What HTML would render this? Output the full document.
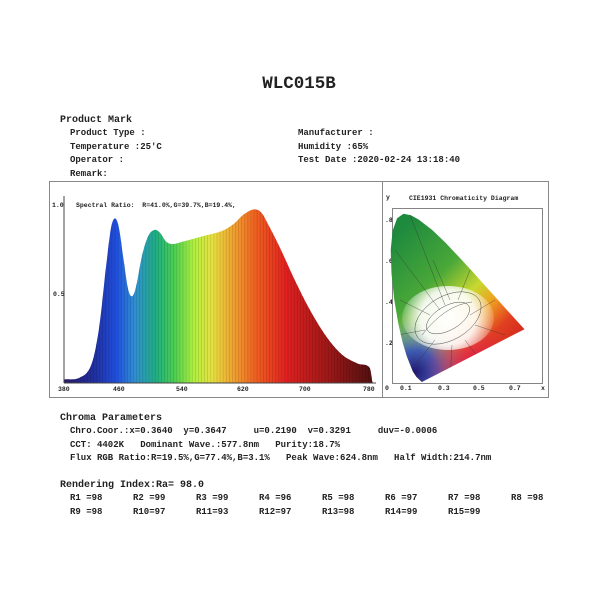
<!DOCTYPE html>
<html><head><meta charset="utf-8"><style>
html,body{margin:0;padding:0;background:#fff;width:600px;height:600px;overflow:hidden}
svg text{font-family:"Liberation Mono",monospace;font-weight:bold;fill:#222}
</style></head><body>
<svg id="s" width="600" height="600" viewBox="0 0 600 600" xmlns="http://www.w3.org/2000/svg">
<defs>
<linearGradient id="spec" x1="64" x2="373" y1="0" y2="0" gradientUnits="userSpaceOnUse">
<stop offset="0" stop-color="#2a1a6a"/>
<stop offset="0.1" stop-color="#2030a0"/>
<stop offset="0.17" stop-color="#2050e0"/>
<stop offset="0.23" stop-color="#3090d0"/>
<stop offset="0.3" stop-color="#20b080"/>
<stop offset="0.36" stop-color="#50d050"/>
<stop offset="0.42" stop-color="#b0f040"/>
<stop offset="0.48" stop-color="#e8e040"/>
<stop offset="0.55" stop-color="#f0a030"/>
<stop offset="0.62" stop-color="#f06020"/>
<stop offset="0.72" stop-color="#e02020"/>
<stop offset="0.85" stop-color="#a01818"/>
<stop offset="1" stop-color="#501010"/>
</linearGradient>
<clipPath id="cie"><path id="locus" d=""/></clipPath>
<radialGradient id="white" cx="448" cy="318" r="50" gradientUnits="userSpaceOnUse">
<stop offset="0" stop-color="#fff" stop-opacity="1"/><stop offset="0.55" stop-color="#fff" stop-opacity="0.9"/><stop offset="1" stop-color="#fff" stop-opacity="0"/>
</radialGradient>
<linearGradient id="cg" x1="400" y1="230" x2="520" y2="350" gradientUnits="userSpaceOnUse">
<stop offset="0" stop-color="#1e8a3e"/><stop offset="0.35" stop-color="#4aa838"/><stop offset="0.55" stop-color="#c8d830"/><stop offset="0.68" stop-color="#f0a020"/><stop offset="0.82" stop-color="#e04020"/><stop offset="1" stop-color="#d02020"/>
</linearGradient>
<radialGradient id="blue" cx="415" cy="372" r="55" gradientUnits="userSpaceOnUse">
<stop offset="0" stop-color="#201870"/><stop offset="0.4" stop-color="#3050c0" stop-opacity="0.9"/><stop offset="1" stop-color="#50a0e0" stop-opacity="0"/>
</radialGradient>
<radialGradient id="mag" cx="470" cy="365" r="45" gradientUnits="userSpaceOnUse">
<stop offset="0" stop-color="#e02050" stop-opacity="0.9"/><stop offset="1" stop-color="#e02050" stop-opacity="0"/>
</radialGradient>
</defs>
<text x="299" y="88" font-size="17.5" text-anchor="middle" fill="#111">WLC015B</text>
<g font-size="10"><text x="60" y="122">Product Mark</text><text x="60" y="420">Chroma Parameters</text><text x="60" y="487">Rendering Index:Ra= 98.0</text></g>
<g font-size="9">
<text x="70" y="135">Product Type :</text><text x="298" y="135">Manufacturer :</text>
<text x="70" y="149">Temperature :25'C</text><text x="298" y="149">Humidity :65%</text>
<text x="70" y="162">Operator :</text><text x="298" y="162">Test Date :2020-02-24 13:18:40</text>
<text x="70" y="176">Remark:</text>
<text x="70" y="433" xml:space="preserve">Chro.Coor.:x=0.3640  y=0.3647     u=0.2190  v=0.3291     duv=-0.0006</text>
<text x="70" y="447" xml:space="preserve">CCT: 4402K   Dominant Wave.:577.8nm   Purity:18.7%</text>
<text x="70" y="460" xml:space="preserve">Flux RGB Ratio:R=19.5%,G=77.4%,B=3.1%   Peak Wave:624.8nm   Half Width:214.7nm</text>
<text x="70" y="500">R1 =98</text><text x="133" y="500">R2 =99</text><text x="196" y="500">R3 =99</text><text x="259" y="500">R4 =96</text><text x="322" y="500">R5 =98</text><text x="385" y="500">R6 =97</text><text x="448" y="500">R7 =98</text><text x="511" y="500">R8 =98</text>
<text x="70" y="514">R9 =98</text><text x="133" y="514">R10=97</text><text x="196" y="514">R11=93</text><text x="259" y="514">R12=97</text><text x="322" y="514">R13=98</text><text x="385" y="514">R14=99</text><text x="448" y="514">R15=99</text>
</g>
<rect x="49.5" y="181.5" width="333" height="216" fill="none" stroke="#888"/>
<rect x="382.5" y="181.5" width="166" height="216" fill="none" stroke="#888"/>
<path id="curve" fill="url(#spec)" d=""/>
<g id="lines" stroke="#000" stroke-opacity="0.18" stroke-width="0.6"></g>
<line x1="64" y1="196" x2="64" y2="383" stroke="#444"/>
<line x1="64" y1="383" x2="376" y2="383" stroke="#444"/>
<g font-size="6.5" font-weight="normal">
<text x="52" y="207">1.0</text><text x="53" y="296">0.5</text>
<text x="58" y="391">380</text><text x="113" y="391">460</text><text x="176" y="391">540</text><text x="237" y="391">620</text><text x="299" y="391">700</text><text x="363" y="391">780</text>
<text x="76" y="207" xml:space="preserve">Spectral Ratio:  R=41.0%,G=39.7%,B=19.4%,</text>
<text x="386" y="199">y</text><text x="409" y="200">CIE1931 Chromaticity Diagram</text>
<text x="385" y="222">.8</text><text x="385" y="263">.6</text><text x="385" y="304">.4</text><text x="385" y="345">.2</text>
<text x="385" y="390">0</text><text x="400" y="390">0.1</text><text x="438" y="390">0.3</text><text x="473" y="390">0.5</text><text x="509" y="390">0.7</text><text x="541" y="390">x</text>
</g>
<rect x="392.5" y="208.5" width="150" height="175" fill="none" stroke="#666" stroke-width="0.8"/>
<g clip-path="url(#cie)">
<rect x="385" y="200" width="165" height="190" fill="url(#cg)"/>
<rect x="385" y="200" width="165" height="190" fill="url(#blue)"/>
<rect x="385" y="200" width="165" height="190" fill="url(#mag)"/>
<ellipse cx="448" cy="318" rx="46" ry="32" fill="url(#white)"/>
<g fill="none" stroke="#333" stroke-width="0.35">
<path d="M395 250 L440 310 M410 215 L445 305 M433 260 L450 300 M470 270 L458 300 M400 300 L430 315 M398 335 L425 330 M415 365 L435 340 M450 380 L452 345 M480 360 L465 340 M505 335 L475 325 M495 300 L470 315"/>
</g>
</g>
<g fill="none" stroke="#333" stroke-width="0.4">
<ellipse cx="448" cy="318" rx="24" ry="12" transform="rotate(-30 448 318)"/>
<ellipse cx="448" cy="318" rx="36" ry="22" transform="rotate(-30 448 318)"/>
<path d="M422 335 Q445 305 472 302"/>
</g>
</svg>
<script>
var d=[[380,.02],[400,.03],[415,.1],[425,.3],[435,.68],[441,.88],[446,.93],[451,.88],[457,.7],[463,.53],[468,.49],[473,.54],[481,.72],[489,.83],[497,.865],[504,.85],[512,.8],[520,.785],[535,.8],[560,.83],[585,.86],[600,.9],[612,.95],[625,.98],[635,.965],[645,.89],[660,.76],[680,.57],[700,.4],[720,.26],[740,.16],[760,.11],[776,.085],[779,.01],[780,0]];
function X(w){return 64+(w-380)*0.7725}function Y(v){return 383-v*177}
function val(w){for(var i=1;i<d.length;i++)if(w<=d[i][0]){var a=d[i-1],b=d[i],t=(w-a[0])/(b[0]-a[0]);var p0=d[Math.max(i-2,0)],p3=d[Math.min(i+1,d.length-1)];
var m1=(b[1]-p0[1])/(b[0]-p0[0])*(b[0]-a[0]),m2=(p3[1]-a[1])/(p3[0]-a[0])*(b[0]-a[0]);var t2=t*t,t3=t2*t;
return (2*t3-3*t2+1)*a[1]+(t3-2*t2+t)*m1+(-2*t3+3*t2)*b[1]+(t3-t2)*m2;}return 0}
var p="M"+X(380)+" 383";for(var w=380;w<=780;w+=1)p+=" L"+X(w).toFixed(1)+" "+Y(Math.max(0,val(w))).toFixed(1);p+=" L"+X(780)+" 383Z";
document.getElementById("curve").setAttribute("d",p);
var g=document.getElementById("lines"),h="";for(var w=382;w<780;w+=4){var x=X(w).toFixed(1);h+='<line x1="'+x+'" x2="'+x+'" y1="383" y2="'+Y(Math.max(0,val(w))).toFixed(1)+'"/>';}g.innerHTML=h;
var L=[[.174,.005],[.144,.03],[.124,.058],[.091,.133],[.069,.2],[.045,.295],[.023,.413],[.008,.538],[.004,.655],[.014,.75],[.039,.812],[.074,.834],[.114,.826],[.155,.806],[.23,.754],[.302,.692],[.373,.624],[.444,.555],[.512,.487],[.575,.424],[.627,.372],[.691,.308],[.735,.265]];
var q="";L.forEach(function(c,i){q+=(i?" L":"M")+(390+c[0]*183).toFixed(1)+" "+(383-c[1]*203).toFixed(1)});q+="Z";
document.getElementById("locus").setAttribute("d",q);
</script>
</body></html>
